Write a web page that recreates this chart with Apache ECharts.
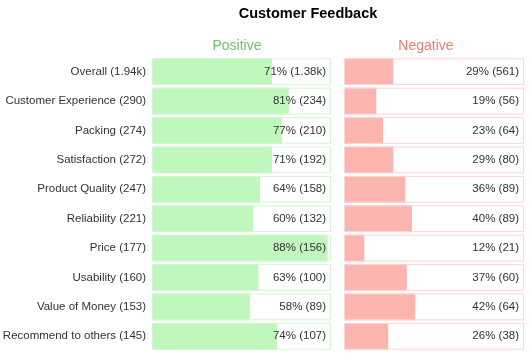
<!DOCTYPE html>
<html>
<head>
<meta charset="utf-8">
<script src="https://cdn.jsdelivr.net/npm/echarts@6/dist/echarts.min.js"></script>
<style>
html,body{margin:0;padding:0;background:#fff;}
#chart{width:532px;height:355px;}
</style>
</head>
<body>
<div id="chart"></div>
<script>
var categories = ['Overall', 'Customer Experience', 'Packing', 'Satisfaction', 'Product Quality', 'Reliability', 'Price', 'Usability', 'Value of Money', 'Recommend to others'];
var totals = ['1.94k', '290', '274', '272', '247', '221', '177', '160', '153', '145'];
var positivePct = [71, 81, 77, 71, 64, 60, 88, 63, 58, 74];
var positiveCount = ['1.38k', '234', '210', '192', '158', '132', '156', '100', '89', '107'];
// bar lengths as drawn in the picture (Price bar is drawn longer than its label)
var positiveBar = [71, 81, 77, 71, 64, 60, 104, 63, 58, 74];
var negativePct = [29, 19, 23, 29, 36, 40, 12, 37, 42, 26];
var negativeCount = ['561', '56', '64', '80', '89', '89', '21', '60', '64', '38'];

var AXIS_MAX = 106;
var FONT = '"Liberation Sans", Arial, sans-serif';

var catLabels = categories.map(function (c, i) { return c + ' (' + totals[i] + ')'; });
var frameData = categories.map(function () { return AXIS_MAX; });

var chart = echarts.init(document.getElementById('chart'), null, {renderer: 'canvas'});

function panelSeries(idx, bars, pct, cnt, fill, border) {
  return [
    {
      type: 'bar', xAxisIndex: idx, yAxisIndex: idx,
      data: bars, barCategoryGap: '9%', barGap: '-100%', z: 2,
      itemStyle: {color: fill},
      silent: true, animation: false
    },
    {
      type: 'bar', xAxisIndex: idx, yAxisIndex: idx,
      data: frameData, barCategoryGap: '9%', barGap: '-100%', z: 3,
      itemStyle: {color: 'rgba(0,0,0,0)', borderColor: border, borderWidth: 1},
      label: {
        show: true, position: 'insideRight', distance: 5,
        color: '#333', fontSize: 11.5, fontFamily: FONT,
        formatter: function (p) { return pct[p.dataIndex] + '% (' + cnt[p.dataIndex] + ')'; }
      },
      silent: true, animation: false
    }
  ];
}

var option = {
  animation: false,
  backgroundColor: '#fff',
  textStyle: {fontFamily: FONT},
  grid: [
    {left: 152, top: 57, width: 179, height: 294, containLabel: false, outerBoundsMode: 'none'},
    {left: 344, top: 57, width: 180, height: 294, containLabel: false, outerBoundsMode: 'none'}
  ],
  xAxis: [
    {gridIndex: 0, type: 'value', min: 0, max: AXIS_MAX, show: false},
    {gridIndex: 1, type: 'value', min: 0, max: AXIS_MAX, show: false}
  ],
  yAxis: [
    {gridIndex: 0, type: 'category', data: catLabels, inverse: true,
     axisLine: {show: false}, axisTick: {show: false}, splitLine: {show: false},
     axisLabel: {color: '#333', fontSize: 11.5, fontFamily: FONT, margin: 6}},
    {gridIndex: 1, type: 'category', data: catLabels, inverse: true,
     axisLine: {show: false}, axisTick: {show: false}, splitLine: {show: false},
     axisLabel: {show: false}}
  ],
  graphic: [
    {type: 'text', x: 308, y: 14, style: {text: 'Customer Feedback', align: 'center', verticalAlign: 'middle', font: 'bold 14.5px ' + FONT, fill: '#000'}},
    {type: 'text', x: 237, y: 46.5, style: {text: 'Positive', align: 'center', verticalAlign: 'middle', font: '14px ' + FONT, fill: '#6cc46c'}},
    {type: 'text', x: 426, y: 46.5, style: {text: 'Negative', align: 'center', verticalAlign: 'middle', font: '14px ' + FONT, fill: '#f47b6f'}}
  ],
  series: [].concat(
    panelSeries(0, positiveBar, positivePct, positiveCount, '#bff7bd', '#d6f5d6'),
    panelSeries(1, negativePct, negativePct, negativeCount, '#fcb5ae', '#fdd6d6')
  )
};
chart.setOption(option);
</script>
</body>
</html>
